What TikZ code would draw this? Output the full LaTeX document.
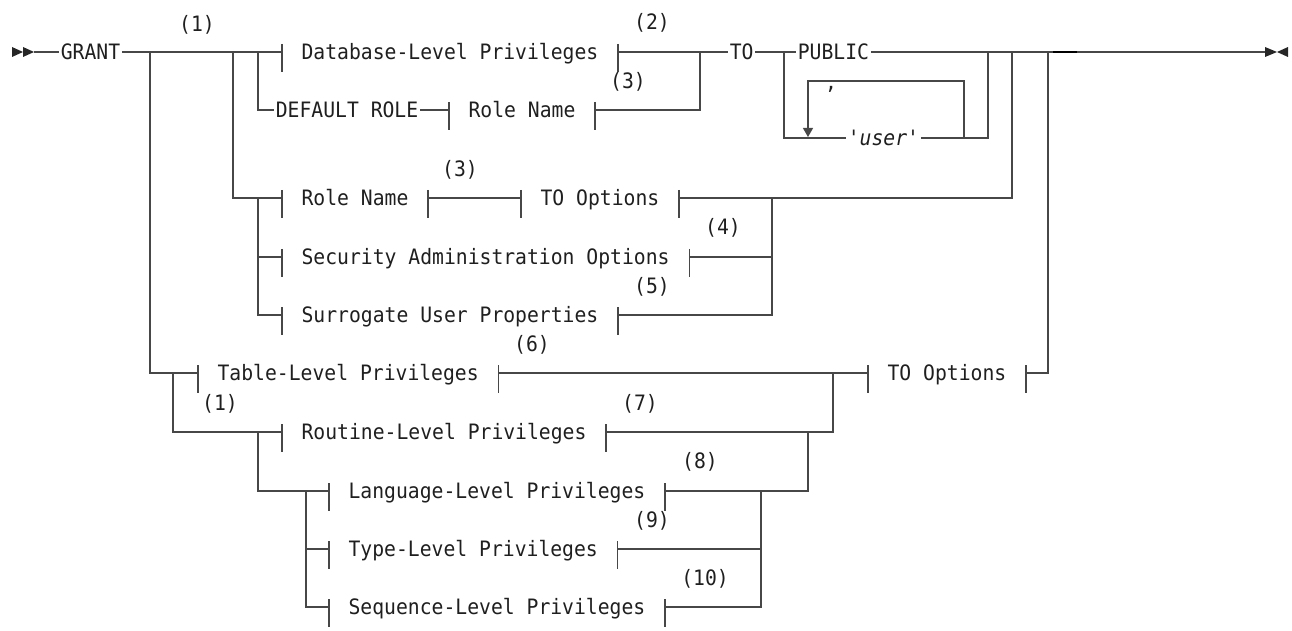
\documentclass[tikz,border=0pt]{standalone}
\usepackage{fontspec}
\usepackage{tikz}
\usetikzlibrary{arrows.meta}
\newfontfamily\synfont[FakeStretch=0.93]{DejaVu Sans Mono}

% a reference to a syntax fragment: |- text -|
\newcommand{\synref}[4]{%
  \node[frag] (#1) at (#2,#3) {#4};
  \draw (#1.west) ++(0,-8) -- ++(0,28);
  \draw (#1.east) ++(0,-8) -- ++(0,28);}

\begin{document}
\begin{tikzpicture}[x=0.5pt, y=-0.5pt, line width=0.6pt, color=black!72,
  every node/.style={font={\synfont\fontsize{10.6pt}{12pt}\selectfont}, text=black!88, text height=7.73pt, text depth=0pt},
  kw/.style={anchor=west, inner xsep=0.6pt, inner ysep=0pt},
  frag/.style={anchor=west, inner xsep=9.5pt, inner ysep=0pt},
  note/.style={inner sep=0pt}]
  \useasboundingbox (0,0) rectangle (1292,631);
  % start and end marks
  \fill[black!85] (12,47) -- (23,52) -- (12,57) -- cycle (23,47) -- (34,52) -- (23,57) -- cycle;
  \fill[black!85] (1265,47) -- (1277,52) -- (1265,57) -- cycle (1288,47) -- (1277,52) -- (1288,57) -- cycle;
  \coordinate (start) at (34,52);
  \coordinate (stop) at (1265,52);
  % main line
  \node[kw] (grant) at (59,52) {GRANT};
  \synref{db}{282}{52}{Database-Level Privileges}
  \node[kw] (to) at (728,52) {TO};
  \node[kw] (pub) at (796,52) {PUBLIC};
  \node[kw] (usr) at (846,138) {\itshape 'user'};
  \node[anchor=base, inner sep=0pt] (comma) at (831,90) {,};
  \node[kw] (dflt) at (274,110) {DEFAULT ROLE};
  \synref{dfrole}{449}{110}{Role Name}
  % role name / security / surrogate
  \synref{rn}{282}{198}{Role Name}
  \synref{to1}{521}{198}{TO Options}
  \synref{sec}{282}{257}{Security Administration Options}
  \synref{sur}{282}{315}{Surrogate User Properties}
  % table and routine level
  \synref{tbl}{198}{373}{Table-Level Privileges}
  \synref{to2}{868}{373}{TO Options}
  \synref{rtn}{282}{432}{Routine-Level Privileges}
  \synref{lang}{329}{491}{Language-Level Privileges}
  \synref{typ}{329}{549}{Type-Level Privileges}
  \synref{seq}{329}{607}{Sequence-Level Privileges}
  % notes
  \node[note] (n1) at (197,24) {(1)};
  \node[note] (n2) at (652,22) {(2)};
  \node[note] (n3) at (628,81) {(3)};
  \node[note] (n3b) at (460,169) {(3)};
  \node[note] (n4) at (723,227) {(4)};
  \node[note] (n5) at (652,286) {(5)};
  \node[note] (n6) at (532,344) {(6)};
  \node[note] (n1b) at (220,403) {(1)};
  \node[note] (n7) at (640,403) {(7)};
  \node[note] (n8) at (700,461) {(8)};
  \node[note] (n9) at (652,520) {(9)};
  \node[note] (n10) at (705,578) {(10)};
  % junctions
  \coordinate (a1) at (150,52);
  \coordinate (a2) at (233,52);
  \coordinate (a3) at (258,52);
  \coordinate (b1) at (700,52);
  \coordinate (c1) at (784,52);
  \coordinate (c2) at (964,138);
  \coordinate (c3) at (988,52);
  \coordinate (lp) at (808,81);
  \coordinate (d1) at (1012,52);
  \coordinate (e1) at (258,198);
  \coordinate (f1) at (772,198);
  \coordinate (g1) at (1048,52);
  \coordinate (h1) at (173,373);
  \coordinate (h2) at (833,373);
  \coordinate (k1) at (258,432);
  \coordinate (k2) at (808,432);
  \coordinate (m1) at (306,491);
  \coordinate (m2) at (761,491);
  % connectors
  \draw (start) -- (grant.west);
  \draw (grant.east) -- (db.west);
  \draw (a1) |- (tbl.west);
  \draw (a2) |- (rn.west);
  \draw (a3) |- (dflt.west);
  \draw (dflt.east) -- (dfrole.west);
  \draw (dfrole.east) -| (b1);
  \draw (db.east) -- (to.west);
  \draw (to.east) -- (pub.west);
  \draw (pub.east) -- (stop);
  \draw (c1) |- (usr.west);
  \draw (usr.east) -| (c3);
  \draw[-{Triangle[width=5pt,length=4.5pt]}] (c2) |- (lp) -- ++(0,56);
  \draw[line width=1pt, black] (1053,52) -- (1077,52);
  \draw (rn.east) -- (to1.west);
  \draw (to1.east) -| (d1);
  \draw (e1) |- (sec.west);
  \draw (e1) |- (sur.west);
  \draw (sec.east) -| (f1);
  \draw (sur.east) -| (f1);
  \draw (tbl.east) -- (to2.west);
  \draw (to2.east) -| (g1);
  \draw (h1) |- (rtn.west);
  \draw (rtn.east) -| (h2);
  \draw (k1) |- (lang.west);
  \draw (lang.east) -| (k2);
  \draw (m1) |- (typ.west);
  \draw (m1) |- (seq.west);
  \draw (typ.east) -| (m2);
  \draw (seq.east) -| (m2);
\end{tikzpicture}
\end{document}
